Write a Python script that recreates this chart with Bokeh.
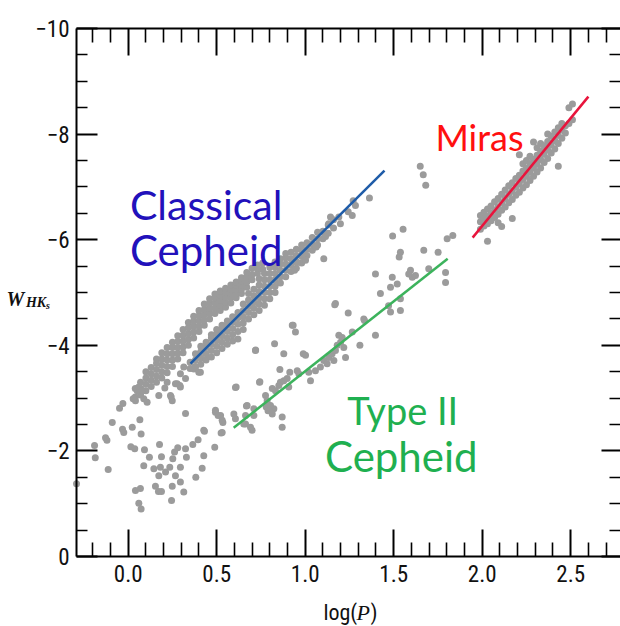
from bokeh.plotting import figure
from bokeh.models import Range1d, LinearAxis, FixedTicker, Label, CustomJSTickFormatter, PrintfTickFormatter
from bokeh.embed import file_html
from bokeh.resources import INLINE

# ---------------- data ----------------
CC_UPPER_COLS = [
    (0.040, [-3.02, -3.18]),
    (0.070, [-3.06, -3.18, -3.30]),
    (0.100, [-3.14, -3.26, -3.38, -3.50]),
    (0.130, [-3.22, -3.34, -3.46, -3.58]),
    (0.160, [-3.30, -3.42, -3.54, -3.66, -3.74]),
    (0.190, [-3.38, -3.50, -3.62, -3.74, -3.86]),
    (0.220, [-3.48, -3.60, -3.72, -3.84, -3.96]),
    (0.250, [-3.60, -3.72, -3.84, -3.96, -4.06]),
    (0.280, [-3.74, -3.85, -3.96, -4.07, -4.18]),
    (0.310, [-3.86, -3.97, -4.08, -4.19, -4.30]),
    (0.340, [-4.00, -4.11, -4.22, -4.33, -4.43]),
    (0.370, [-4.14, -4.25, -4.36, -4.46, -4.55]),
    (0.400, [-4.26, -4.36, -4.46, -4.56, -4.66]),
    (0.430, [-4.38, -4.48, -4.58, -4.68, -4.78]),
    (0.460, [-4.50, -4.60, -4.70, -4.80, -4.88]),
    (0.490, [-4.60, -4.70, -4.80, -4.90, -4.97]),
    (0.520, [-4.66, -4.76, -4.86, -4.95, -5.03]),
    (0.550, [-4.72, -4.82, -4.92, -5.00, -5.08]),
    (0.580, [-4.80, -4.90, -4.98, -5.06, -5.14]),
    (0.610, [-4.90, -4.98, -5.06, -5.14, -5.20]),
    (0.640, [-4.98, -5.06, -5.14, -5.22, -5.28]),
    (0.670, [-5.10, -5.20, -5.30, -5.38]),
    (0.700, [-5.24, -5.34, -5.46]),
    (0.730, [-5.36, -5.46, -5.52]),
    (0.760, [-5.44, -5.56]),
]
CC_LOWER_COLS = [
    (0.350, [-3.56, -3.68]),
    (0.380, [-3.60, -3.72, -3.84]),
    (0.410, [-3.64, -3.76, -3.88, -3.98]),
    (0.440, [-3.72, -3.84, -3.96, -4.06]),
    (0.470, [-3.78, -3.90, -4.02, -4.14, -4.20]),
    (0.500, [-3.86, -3.98, -4.10, -4.22, -4.30]),
    (0.530, [-3.94, -4.06, -4.18, -4.30, -4.38]),
    (0.560, [-4.02, -4.14, -4.26, -4.38, -4.46]),
    (0.590, [-4.08, -4.20, -4.32, -4.44, -4.54]),
    (0.620, [-4.12, -4.26, -4.40, -4.52, -4.62]),
    (0.650, [-4.30, -4.42, -4.54, -4.66, -4.78]),
    (0.680, [-4.50, -4.62, -4.74, -4.86, -4.98]),
    (0.710, [-4.58, -4.70, -4.82, -4.94, -5.06]),
    (0.740, [-4.66, -4.78, -4.90, -5.02, -5.14, -5.26]),
    (0.770, [-4.76, -4.88, -5.00, -5.12, -5.24, -5.36]),
    (0.800, [-4.88, -5.00, -5.12, -5.24, -5.36, -5.48]),
    (0.830, [-5.00, -5.12, -5.24, -5.36, -5.48, -5.58]),
    (0.860, [-5.18, -5.30, -5.42, -5.54, -5.64]),
    (0.890, [-5.30, -5.42, -5.54, -5.66, -5.74]),
    (0.920, [-5.40, -5.52, -5.64, -5.76]),
    (0.950, [-5.46, -5.58, -5.70, -5.82]),
    (0.980, [-5.56, -5.68, -5.80, -5.90]),
    (1.010, [-5.70, -5.82, -5.94]),
    (1.040, [-5.80, -5.92, -6.04]),
    (1.070, [-5.90, -6.02, -6.14]),
    (1.100, [-6.02, -6.16]),
    (1.130, [-6.12, -6.28]),
    (1.160, [-6.22, -6.38]),
]
CC_EXTRA = [
    (0.028, -2.99), (0.041, -2.95), (0.051, -3.14), (0.060, -3.21), (0.088, -2.99),
    (0.079, -3.14), (0.107, -2.92), (0.173, -3.05), (0.239, -3.05), (0.249, -2.95),
    (0.220, -3.30), (0.277, -3.27), (0.295, -3.46), (0.371, -3.55), (0.399, -3.49),
    (0.324, -3.37), (0.267, -3.27), (0.295, -3.21), (0.243, -3.02), (0.207, -3.19),
    (0.408, -3.49), (0.380, -3.59), (0.314, -3.59), (0.292, -3.24),
    (1.271, -6.74), (1.284, -6.65), (1.363, -6.79), (1.243, -6.53), (1.266, -6.46),
    (1.143, -6.43), (1.133, -6.30), (1.100, -6.14), (1.115, -6.06), (1.062, -5.86),
    (0.992, -5.80), (0.983, -5.70), (1.002, -5.61), (0.955, -5.57), (0.940, -5.42),
    (1.190, -6.43), (1.199, -6.30), (1.105, -5.64),
]
TYPE2 = [
    (-0.292, -1.38), (-0.190, -2.10), (-0.186, -1.87), (-0.113, -1.65), (-0.128, -2.25),
    (-0.120, -2.20), (-0.090, -2.54), (-0.049, -2.81), (-0.030, -2.90), (-0.032, -2.41),
    (-0.025, -2.35), (0.023, -2.45), (0.066, -2.59), (0.073, -2.32), (0.015, -2.08),
    (0.037, -2.04), (0.092, -2.02), (0.120, -1.88), (0.088, -1.72), (0.041, -1.25),
    (0.069, -1.29), (0.060, -1.01), (0.073, -0.90), (0.145, -1.66), (0.177, -2.12),
    (0.188, -1.89), (0.173, -1.53), (0.182, -1.69), (0.154, -1.33), (0.171, -1.23),
    (0.188, -1.23), (0.211, -1.60), (0.235, -1.69), (0.252, -1.85), (0.262, -1.98),
    (0.280, -2.06), (0.295, -1.69), (0.267, -1.53), (0.249, -1.33), (0.295, -1.41),
    (0.245, -1.06), (0.314, -1.22), (0.324, -2.04), (0.329, -1.88), (0.324, -2.71),
    (0.365, -2.12), (0.395, -2.21), (0.431, -2.37), (0.427, -1.91), (0.418, -1.67),
    (0.382, -1.50), (0.489, -2.07), (0.493, -2.73), (0.508, -2.67), (0.535, -2.54),
    (0.525, -2.34), (0.610, -3.21), (0.597, -2.70), (0.606, -2.61), (0.668, -2.85),
    (0.663, -2.51), (0.700, -2.39), (0.742, -3.30), (0.720, -3.91), (0.780, -2.83),
    (0.790, -2.76), (0.522, -2.67), (0.531, -2.58), (0.531, -2.35), (0.427, -2.39),
    (1.171, -4.79), (1.243, -4.61), (1.335, -4.47), (1.397, -4.19), (1.309, -4.00),
    (1.266, -4.25), (0.927, -4.38), (0.945, -4.25), (0.827, -4.03), (0.719, -3.90),
    (0.879, -3.84), (0.989, -3.84), (1.002, -3.81), (0.857, -3.54), (0.913, -3.49),
    (0.955, -3.52), (0.964, -3.46), (1.020, -3.49), (1.030, -3.33), (1.058, -3.52),
    (1.086, -3.59), (1.105, -3.71), (1.133, -3.77), (1.152, -3.84), (1.171, -3.90),
    (1.181, -4.00), (1.200, -4.06), (1.190, -4.19), (1.209, -4.15), (1.218, -3.96),
    (1.228, -3.77), (1.162, -3.71), (1.124, -3.65), (0.744, -3.31), (0.606, -3.20),
    (0.814, -3.18), (0.832, -3.14), (0.851, -3.24), (0.860, -3.30), (0.879, -3.33),
    (0.898, -3.37), (0.907, -3.21), (0.776, -3.05), (0.785, -2.95), (0.804, -2.86),
    (0.823, -2.80), (0.794, -2.77), (0.814, -2.70), (0.672, -2.86), (0.710, -2.80),
    (0.663, -2.67), (0.710, -2.67), (0.653, -2.51), (0.691, -2.45), (0.870, -2.64),
    (0.870, -2.45), (0.493, -2.77),
    (1.494, -6.07), (1.553, -6.20), (1.531, -5.67), (1.538, -5.76), (1.670, -5.80),
    (1.751, -5.76), (1.802, -6.02), (1.834, -6.08), (1.397, -5.35), (1.425, -4.98),
    (1.492, -5.29), (1.482, -5.10), (1.520, -5.16), (1.595, -5.42), (1.605, -5.29),
    (1.623, -5.32), (1.585, -5.35), (1.538, -4.88), (1.698, -5.45), (1.793, -5.38),
    (1.793, -5.19), (1.538, -4.66), (1.471, -4.75), (1.482, -4.63), (1.331, -4.50),
    (1.650, -7.39), (1.667, -7.23), (1.681, -7.03), (1.167, -4.77), (0.932, -4.38),
]
MIRA_COLS = [
    (1.99, [-6.20, -6.34, -6.46]), (2.01, [-6.26, -6.40, -6.52]),
    (2.03, [-6.30, -6.44, -6.58, -5.97]), (2.05, [-6.36, -6.50, -6.64]),
    (2.07, [-6.42, -6.56, -6.72]), (2.09, [-6.48, -6.62, -6.78, -6.32]),
    (2.11, [-6.56, -6.70, -6.86, -6.25]), (2.13, [-6.62, -6.78, -6.94]),
    (2.15, [-6.70, -6.86, -7.02]), (2.17, [-6.76, -6.92, -7.08, -6.40]),
    (2.19, [-6.84, -7.00, -7.16]), (2.21, [-6.90, -7.06, -7.22, -7.61]),
    (2.23, [-6.98, -7.14, -7.30, -7.44]), (2.25, [-7.04, -7.20, -7.36, -7.50]),
    (2.27, [-7.12, -7.28, -7.44, -7.58]), (2.29, [-7.20, -7.36, -7.52, -7.85]),
    (2.31, [-7.28, -7.44, -7.60, -7.74]), (2.33, [-7.36, -7.52, -7.68, -7.82]),
    (2.35, [-7.46, -7.62, -7.78]), (2.37, [-7.54, -7.70, -7.86, -8.00]),
    (2.39, [-7.64, -7.80, -7.96]), (2.41, [-7.72, -7.88, -8.04]),
    (2.43, [-7.82, -7.98, -8.12, -7.39]), (2.45, [-7.92, -8.08, -8.20]),
    (2.47, [-8.02, -8.16]), (2.49, [-8.20, -8.50]), (2.51, [-8.27, -8.57]),
]
CC_LINE_LOGP, CC_LINE_W = [0.352, 1.448], [-3.655, -7.31]
T2_LINE_LOGP, T2_LINE_W = [0.596, 1.805], [-2.44, -5.64]
MIRA_LINE_LOGP, MIRA_LINE_W = [1.946, 2.60], [-6.04, -8.71]

X_LO, X_HI = -0.292, 2.781
Y_LO, Y_HI = 0.0, -10.0
X_MAJOR = [0.0, 0.5, 1.0, 1.5, 2.0, 2.5]
X_MINOR = [-0.2, -0.1, 0.1, 0.2, 0.3, 0.4, 0.6, 0.7, 0.8, 0.9, 1.1, 1.2, 1.3, 1.4,
           1.6, 1.7, 1.8, 1.9, 2.1, 2.2, 2.3, 2.4, 2.6, 2.7]
Y_MAJOR = [-10, -8, -6, -4, -2, 0]
Y_MINOR = [-9.5, -9, -8.5, -7.5, -7, -6.5, -5.5, -5, -4.5, -3.5, -3, -2.5, -1.5, -1, -0.5]


def flatten(cols):
    xs, ys = [], []
    for x, wl in cols:
        for w in wl:
            xs.append(x)
            ys.append(w)
    return xs, ys


cc_x, cc_y = flatten(CC_UPPER_COLS + CC_LOWER_COLS)
cc_x += [p[0] for p in CC_EXTRA]
cc_y += [p[1] for p in CC_EXTRA]
t2_x = [p[0] for p in TYPE2]
t2_y = [p[1] for p in TYPE2]
m_x, m_y = flatten(MIRA_COLS)

# ---------------- figure ----------------
TICK_FONT = "'Liberation Sans Narrow', 'Roboto Condensed', 'Liberation Sans', sans-serif"
SERIF = "'Liberation Serif', 'DejaVu Serif', serif"
ANN_FONT = "Lato"

# plotting area fills the page; the axes box is drawn with fixed-location axes
p = figure(width=620, height=626, x_range=Range1d(-0.7214, 2.7814), y_range=Range1d(1.3258, -10.5303),
           output_backend="svg", toolbar_location=None,
           x_axis_location=None, y_axis_location=None,
           min_border_left=0, min_border_right=0, min_border_top=0, min_border_bottom=0)
p.grid.visible = False
p.outline_line_color = None
p.background_fill_color = "white"
p.border_fill_color = "white"

xt = FixedTicker(ticks=X_MAJOR, minor_ticks=X_MINOR)
yt = FixedTicker(ticks=Y_MAJOR, minor_ticks=Y_MINOR)
yfmt = CustomJSTickFormatter(code="return tick == 0 ? '0' : '\\u2212' + Math.abs(tick).toFixed(0);")
blank = CustomJSTickFormatter(code="return '';")


def style(ax, major_in, minor_in, labels=True):
    ax.axis_line_color = "black"
    ax.axis_line_width = 2
    ax.major_tick_in = major_in
    ax.major_tick_out = 0
    ax.minor_tick_in = minor_in
    ax.minor_tick_out = 0
    ax.major_tick_line_width = 2
    ax.minor_tick_line_width = 1.6
    ax.major_tick_line_color = "black"
    ax.minor_tick_line_color = "black"
    if labels:
        ax.major_label_text_font = TICK_FONT
        ax.major_label_text_font_size = "23px"
        ax.major_label_text_color = "#111111"
    else:
        ax.formatter = blank
        ax.major_label_text_font_size = "10px"
        ax.major_label_standoff = 0


bottom = LinearAxis(ticker=xt, formatter=PrintfTickFormatter(format="%.1f"),
                    fixed_location=Y_LO, bounds=(X_LO, X_HI))
style(bottom, 27, 14)
bottom.major_label_standoff = 9
top = LinearAxis(ticker=xt, fixed_location=Y_HI, bounds=(X_LO, X_HI))
style(top, 27, 14, labels=False)
left = LinearAxis(ticker=yt, formatter=yfmt, fixed_location=X_LO, bounds=(Y_HI, Y_LO))
style(left, 21, 11)
left.major_label_standoff = 7
right = LinearAxis(ticker=yt, fixed_location=X_HI, bounds=(Y_HI, Y_LO))
style(right, 19, 11, labels=False)
right.axis_line_color = None

p.add_layout(bottom, "below")
p.add_layout(top, "above")
p.add_layout(left, "left")
p.add_layout(right, "right")

DOT = "#9b9b9b"
p.scatter(cc_x, cc_y, size=7, fill_color=DOT, line_color=None)
p.scatter(t2_x, t2_y, size=7, fill_color=DOT, line_color=None)
p.scatter(m_x, m_y, size=7, fill_color=DOT, line_color=None)

p.line(CC_LINE_LOGP, CC_LINE_W, line_color="#1f5ca8", line_width=2.5)
p.line(T2_LINE_LOGP, T2_LINE_W, line_color="#3cb35c", line_width=2.5)
p.line(MIRA_LINE_LOGP, MIRA_LINE_W, line_color="#e8143c", line_width=2.5)


def lab(x, y, t, color, size="40px", font=ANN_FONT, style="normal"):
    p.add_layout(Label(x=x, y=y, text=t, text_color=color, text_font=font,
                       text_font_size=size, text_font_style=style,
                       text_align="left", text_baseline="alphabetic"))


BLUE_T = "#2211bb"
GREEN_T = "#1fb050"
RED_T = "#ff1010"
lab(0.010, -6.67, "Classical", BLUE_T, "41px")
lab(0.010, -5.80, "Cepheid", BLUE_T, "42px")
lab(1.736, -7.94, "Miras", RED_T, "36px")
lab(1.237, -2.77, "Type II", GREEN_T, "38px")
lab(1.112, -1.91, "Cepheid", GREEN_T, "42px")

# x-axis title  log(P)
lab(1.103, 1.06, "log(", "#111111", "22px", TICK_FONT)
lab(1.290, 1.06, "P", "#111111", "22px", SERIF, "italic")
lab(1.369, 1.06, ")", "#111111", "22px", TICK_FONT)

# y-axis title  W_{HK_s}
lab(-0.688, -4.886, "W", "#111111", "20px", SERIF, "bold italic")
lab(-0.578, -4.81, "HK", "#111111", "14px", SERIF, "bold italic")
lab(-0.465, -4.75, "s", "#111111", "10px", SERIF, "bold italic")

open("out.html", "w").write(file_html(p, INLINE))
